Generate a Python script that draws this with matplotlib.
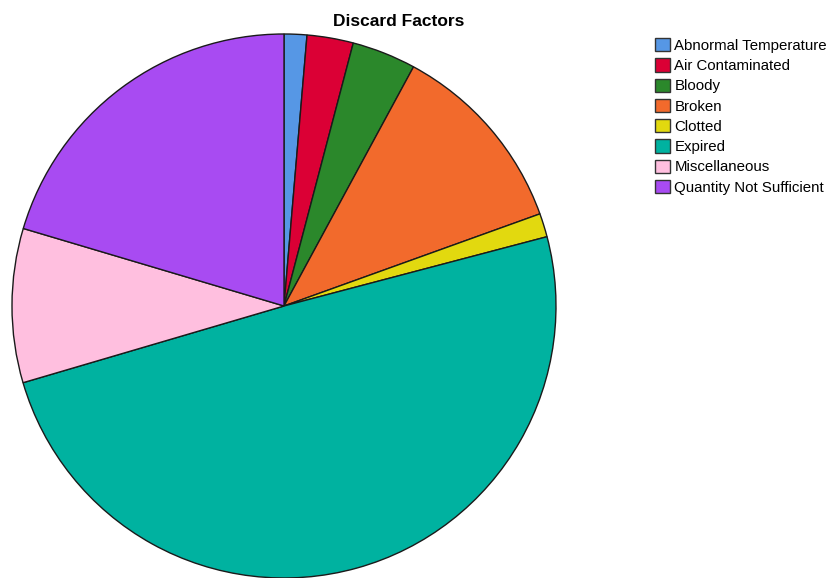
import matplotlib.pyplot as plt
from matplotlib.patches import Patch

plt.rcParams['font.family'] = ['Liberation Sans', 'DejaVu Sans']

factors = ['Abnormal Temperature', 'Air Contaminated', 'Bloody', 'Broken',
           'Clotted', 'Expired', 'Miscellaneous', 'Quantity Not Sufficient']
shares = [1.35, 2.75, 3.8, 11.6, 1.4, 49.55, 9.15, 20.4]
colors = ['#5697E5', '#DB0035', '#2B882B', '#F26A2C',
          '#E2D90F', '#00B2A0', '#FFBFDF', '#A84BF2']

fig = plt.figure(figsize=(8.28, 5.78), dpi=100)

# pie axes: centre (284, 306) px, radius 272 px
W, H = 828, 578
cx, cy, r = 284, 306, 272
ax = fig.add_axes([(cx - r) / W, (H - cy - r) / H, 2 * r / W, 2 * r / H])
wedges, _ = ax.pie(shares, colors=colors, startangle=90, counterclock=False,
                   wedgeprops=dict(edgecolor='#1a1a1a', linewidth=1.0))
for w in wedges:
    w.set_clip_on(False)
ax.set_xlim(-1, 1)
ax.set_ylim(-1, 1)

fig.text(398.5 / W, 1 - 22 / H, 'Discard Factors', ha='center', va='center',
         fontsize=12.5, fontweight='bold')

handles = [Patch(facecolor=c, edgecolor='#333333', linewidth=1.0) for c in colors]
fig.legend(handles, factors, loc='upper left',
           bbox_to_anchor=(655 / W, 1 - 38 / H), frameon=False,
           fontsize=10.8, handlelength=1.0, handleheight=1.0,
           handletextpad=0.3, labelspacing=0.36, borderpad=0, borderaxespad=0)

fig.savefig('out.png', dpi=100)
